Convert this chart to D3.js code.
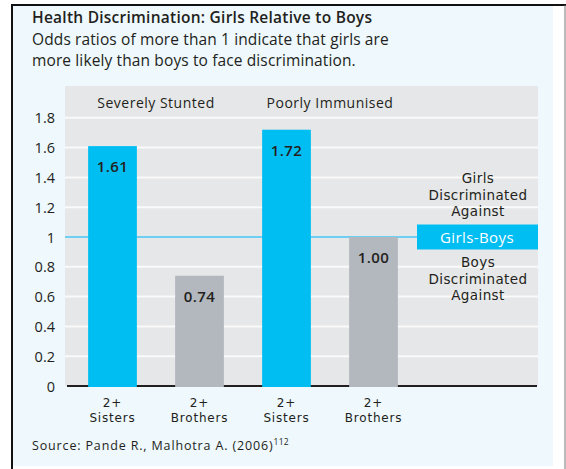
<!DOCTYPE html>
<html>
<head>
<meta charset="utf-8">
<script src="https://cdn.jsdelivr.net/npm/d3@7"></script>
<style>
  body { margin: 0; background: #fff; }
  text { font-family: "Open Sans", "Noto Sans", sans-serif; fill: #231f20; }
  text.stack { font-family: "DejaVu Sans", sans-serif; }
</style>
</head>
<body>
<div id="chart"></div>
<script>
var groups = ['Severely Stunted', 'Poorly Immunised']
var bars = ['s1', 'b1', 's2', 'b2']
var barGroup = ['Severely Stunted', 'Severely Stunted', 'Poorly Immunised', 'Poorly Immunised']
var barLabels = [['2+', 'Sisters'], ['2+', 'Brothers'], ['2+', 'Sisters'], ['2+', 'Brothers']]
var values = [1.61, 0.74, 1.72, 1.00]
var isSisters = [true, false, true, false]
var yTicks = [0, 0.2, 0.4, 0.6, 0.8, 1, 1.2, 1.4, 1.6, 1.8]

var W = 566, H = 469
var svg = d3.select('#chart').append('svg').attr('width', W).attr('height', H)

// frame
svg.append('rect').attr('x', 13).attr('y', 6).attr('width', 540).attr('height', 460).attr('fill', '#eef8fd')
svg.append('line').attr('x1', 12).attr('x2', 12).attr('y1', 5).attr('y2', H).attr('stroke', '#111').attr('stroke-width', 2)
svg.append('line').attr('x1', 11).attr('x2', W).attr('y1', 5).attr('y2', 5).attr('stroke', '#111').attr('stroke-width', 2)
svg.append('line').attr('x1', 565).attr('x2', 565).attr('y1', 5).attr('y2', H).attr('stroke', '#777').attr('stroke-width', 1)

// titles
svg.append('text').attr('x', 32).attr('y', 23).attr('font-size', 15.5).attr('font-weight', 600)
  .attr('letter-spacing', 0.25)
  .text('Health Discrimination: Girls Relative to Boys')
svg.append('text').attr('x', 32).attr('y', 45).attr('font-size', 15.5).attr('letter-spacing', 0.12)
  .text('Odds ratios of more than 1 indicate that girls are')
svg.append('text').attr('x', 32).attr('y', 66).attr('font-size', 15.5).attr('letter-spacing', 0.12)
  .text('more likely than boys to face discrimination.')

var x = d3.scaleBand().domain(bars).range([69, 417]).paddingInner(0.44).paddingOuter(0.22)
var y = d3.scaleLinear().domain([0, 2]).range([386, 88])

// plot background
svg.append('rect').attr('x', 65).attr('y', 86).attr('width', 473).attr('height', y(0) - 86).attr('fill', '#e6e7e8')

// grid
svg.append('g').selectAll('line').data(yTicks.filter(function(d){ return d > 0 && d != 1 }))
  .join('line')
  .attr('x1', 65).attr('x2', 538)
  .attr('y1', function(d){ return y(d) }).attr('y2', function(d){ return y(d) })
  .attr('stroke', '#fafafa').attr('stroke-width', 2)

// y axis labels
var yAxis = d3.axisLeft(y).tickValues(yTicks).tickSize(0).tickPadding(0)
  .tickFormat(function(d){ return d3.format('')(+d.toFixed(1)) })
var yg = svg.append('g').attr('transform', 'translate(55,0)').call(yAxis)
yg.select('.domain').remove()
yg.selectAll('text').attr('font-size', 14.5).attr('font-family', '"Open Sans", sans-serif').attr('fill', '#231f20')
  .attr('dy', '0.35em')

// baseline
svg.append('line').attr('x1', 67).attr('x2', 537).attr('y1', y(0)).attr('y2', y(0)).attr('stroke', '#231f20').attr('stroke-width', 2)

// reference line at 1
svg.append('line').attr('x1', 65).attr('x2', 418).attr('y1', y(1)).attr('y2', y(1)).attr('stroke', '#6fcff3').attr('stroke-width', 2)

// bars
svg.append('g').selectAll('rect').data(bars).join('rect')
  .attr('x', function(d){ return x(d) })
  .attr('width', x.bandwidth())
  .attr('y', function(d, i){ return y(values[i]) })
  .attr('height', function(d, i){ return y(0) - y(values[i]) + 1 })
  .attr('fill', function(d, i){ return isSisters[i] ? '#00bdf2' : '#b3b8be' })

// value labels
svg.append('g').selectAll('text').data(bars).join('text')
  .attr('x', function(d){ return x(d) + x.bandwidth() / 2 })
  .attr('y', function(d, i){ return y(values[i]) + 26 })
  .attr('text-anchor', 'middle').attr('font-size', 15).attr('font-weight', 600).attr('letter-spacing', 0.4)
  .text(function(d, i){ return values[i].toFixed(2) })

// group labels
groups.forEach(function(g){
  var idx = barGroup.map(function(b, i){ return b == g ? i : -1 }).filter(function(i){ return i >= 0 })
  var cx = (x(bars[idx[0]]) + x(bars[idx[idx.length - 1]]) + x.bandwidth()) / 2
  svg.append('text').attr('x', cx).attr('y', 108).attr('text-anchor', 'middle').attr('font-size', 14)
    .attr('letter-spacing', 0.5).text(g)
})

// x labels (two stacked lines)
bars.forEach(function(b, i){
  var cx = x(b) + x.bandwidth() / 2
  barLabels[i].forEach(function(s, j){
    svg.append('text').attr('class', 'stack').attr('x', cx).attr('y', 407 + j * 14.5)
      .attr('text-anchor', 'middle').attr('font-size', 12).attr('letter-spacing', 0.8).text(s)
  })
})

// legend box
svg.append('rect').attr('x', 417).attr('y', y(1) - 12.5).attr('width', 121).attr('height', 25).attr('fill', '#00bdf2')
svg.append('text').attr('x', 477).attr('y', y(1) + 5.5).attr('text-anchor', 'middle').attr('font-size', 15)
  .attr('letter-spacing', 0.4).style('fill', '#fff').text('Girls-Boys')

var legTop = ['Girls', 'Discriminated', 'Against']
var legBot = ['Boys', 'Discriminated', 'Against']
legTop.forEach(function(s, i){
  svg.append('text').attr('class', 'stack').attr('x', 478).attr('y', 183 + i * 16.5).attr('text-anchor', 'middle')
    .attr('font-size', 13.5).attr('letter-spacing', 0.4).text(s)
})
legBot.forEach(function(s, i){
  svg.append('text').attr('class', 'stack').attr('x', 478).attr('y', 267 + i * 16.5).attr('text-anchor', 'middle')
    .attr('font-size', 13.5).attr('letter-spacing', 0.4).text(s)
})

// source
var src = svg.append('text').attr('x', 32).attr('y', 450).attr('font-size', 12.5).attr('letter-spacing', 0.85)
src.append('tspan').text('Source: Pande R., Malhotra A. (2006)')
src.append('tspan').attr('font-size', 8.5).attr('dy', -5).attr('letter-spacing', 0.3).text('112')
</script>
</body>
</html>
